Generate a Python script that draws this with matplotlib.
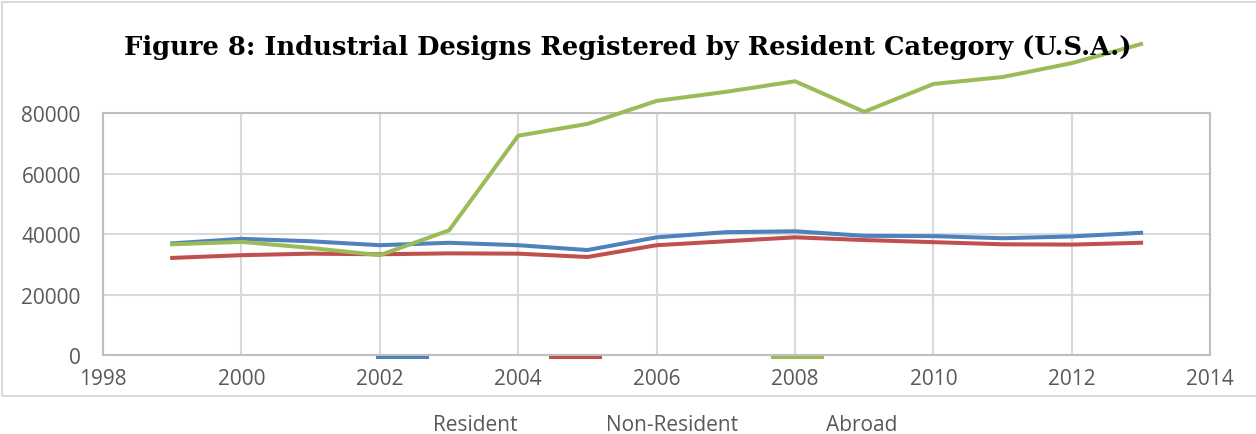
import matplotlib.pyplot as plt
from matplotlib.lines import Line2D
from matplotlib.patches import Rectangle

years = [1999, 2000, 2001, 2002, 2003, 2004, 2005, 2006, 2007, 2008, 2009, 2010, 2011, 2012, 2013]
resident = [36900, 38400, 37600, 36300, 37100, 36300, 34700, 38900, 40600, 40900, 39400, 39300, 38600, 39200, 40400]
non_resident = [32100, 33000, 33500, 33300, 33600, 33500, 32400, 36300, 37600, 38900, 38000, 37300, 36600, 36500, 37100]
abroad = [36600, 37400, 35400, 33000, 41200, 72500, 76400, 84000, 87000, 90500, 80400, 89600, 91900, 96500, 102800]

labels = ['Resident', 'Non-Resident', 'Abroad']
colors = ['#4F81BD', '#C0504D', '#9BBB59']

grid_c = '#D9D9D9'
spine_c = '#BFBFBF'
text_c = '#595959'

fig = plt.figure(figsize=(12.56, 4.35), dpi=100)
ax = fig.add_axes([0.082, 0.1816, 0.8816, 0.5563])

series = [resident, non_resident, abroad]
for vals, c in zip(series, colors):
    ax.plot(years, vals, color=c, lw=2.9, clip_on=False, zorder=3)

ax.set_xlim(1998, 2014)
ax.set_ylim(0, 80000)
ax.set_xticks(range(1998, 2015, 2))
ax.set_yticks(range(0, 80001, 20000))
ax.grid(True, color=grid_c, lw=1.5)
ax.set_axisbelow(True)
for s in ax.spines.values():
    s.set_color(spine_c)
    s.set_linewidth(1.5)
ax.tick_params(length=0, labelsize=15, labelcolor=text_c)
ax.tick_params(axis='y', pad=16)
ax.tick_params(axis='x', pad=9)
for t in ax.get_xticklabels() + ax.get_yticklabels():
    t.set_fontfamily('Open Sans')

fig.text(0.4995, 0.89, 'Figure 8: Industrial Designs Registered by Resident Category (U.S.A.)',
         ha='center', va='center', fontsize=18.5, fontweight='bold', family='DejaVu Serif')

# chart area border (runs off the right edge)
fig.patches.append(Rectangle((2 / 1256, 1 - 397 / 435), 1.1, 394 / 435, transform=fig.transFigure,
                             fill=False, ec=grid_c, lw=1.5, clip_on=False))

# broken Excel legend: keys sit on the axis, names sit below the frame
key_x = [377, 550, 772]
name_x = [475, 672, 862]
for kx, nx, lab, c in zip(key_x, name_x, labels, colors):
    fig.add_artist(Line2D([kx / 1256, (kx + 50) / 1256], [1 - 358 / 435] * 2,
                          transform=fig.transFigure, color=c, lw=2.2))
    fig.text(nx / 1256, 1 - 426 / 435, lab, ha='center', va='center', fontsize=15,
             color=text_c, family='Open Sans')

fig.savefig('out.png', dpi=100, facecolor='white')
